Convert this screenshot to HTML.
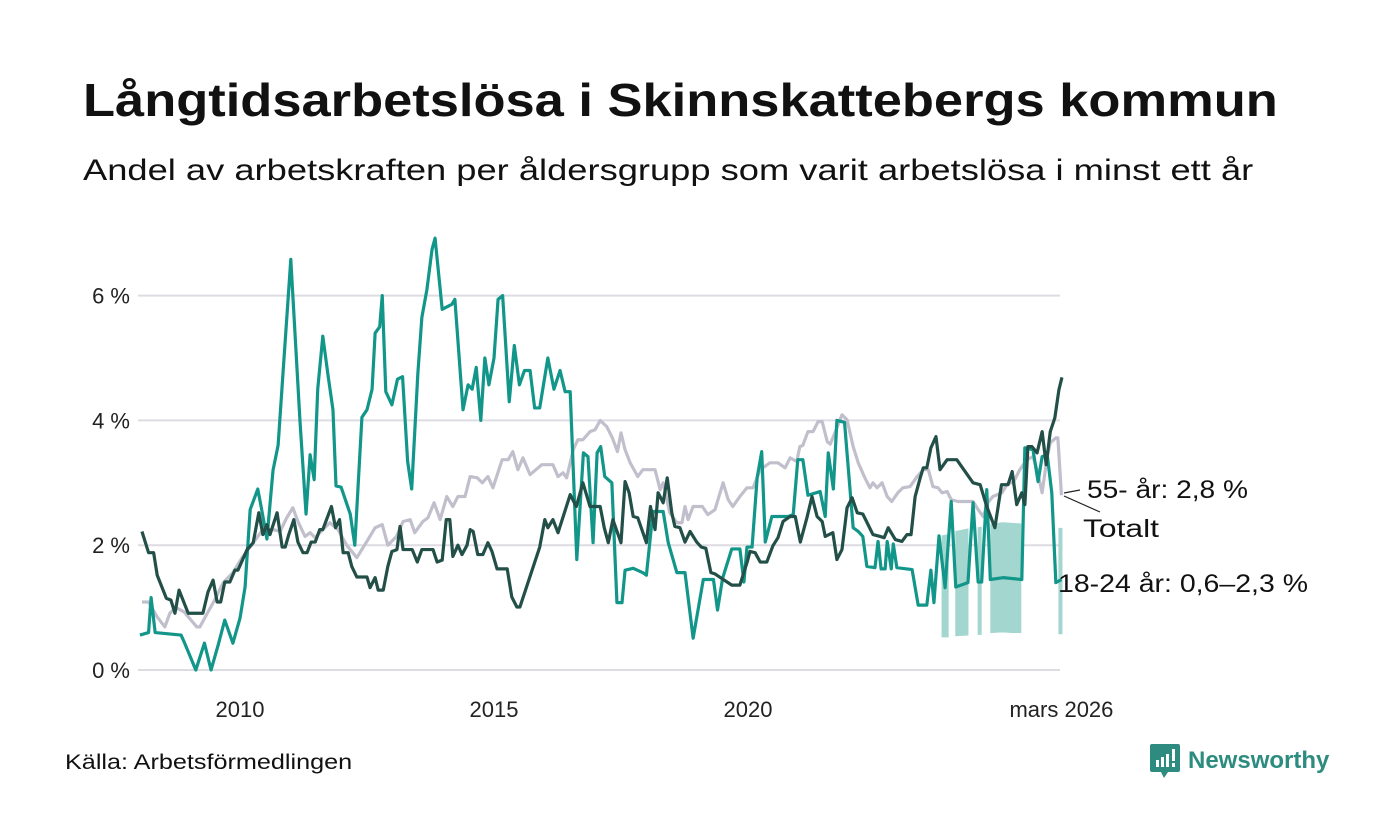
<!DOCTYPE html>
<html><head><meta charset="utf-8">
<style>
html,body{margin:0;padding:0;background:#fff;}
body{width:1400px;height:840px;position:relative;overflow:hidden;font-family:"Liberation Sans",sans-serif;color:#111;}
#title{position:absolute;left:83px;top:73px;font-size:46px;font-weight:bold;margin:0;transform-origin:0 0;transform:scaleX(1.14);white-space:nowrap;}
#subtitle{position:absolute;left:83px;top:154px;font-size:30px;margin:0;transform-origin:0 0;transform:scaleX(1.21);white-space:nowrap;}
#source{position:absolute;left:65px;top:751px;font-size:21px;transform-origin:0 0;transform:scaleX(1.2);white-space:nowrap;}
#logo{position:absolute;left:1150px;top:744px;display:flex;align-items:center;}
#logo span{font-size:24px;font-weight:bold;color:#2d8c7f;margin-left:8px;}
svg{position:absolute;left:0;top:0;}
</style></head><body>
<h1 id="title">Långtidsarbetslösa i Skinnskattebergs kommun</h1>
<p id="subtitle">Andel av arbetskraften per åldersgrupp som varit arbetslösa i minst ett år</p>
<div id="source">Källa: Arbetsförmedlingen</div>
<div id="logo">
<svg style="position:static" width="30" height="34" viewBox="0 0 30 34"><path d="M2 0h26a2 2 0 0 1 2 2v24a2 2 0 0 1-2 2H18l-4 6-3-6H2a2 2 0 0 1-2-2V2a2 2 0 0 1 2-2z" fill="#2d8c7f"/><rect x="6" y="16" width="3" height="7" fill="#fff"/><rect x="11" y="13" width="3" height="10" fill="#fff"/><rect x="16" y="10" width="3" height="13" fill="#fff"/><rect x="22" y="5" width="3" height="12" fill="#fff"/><rect x="22" y="19" width="3" height="4" fill="#fff"/></svg>
<span>Newsworthy</span></div>
<svg id="chart" width="1400" height="840"></svg>
<script>
const yTicks=[0,2,4,6];
const yTickLabels=["0 %","2 %","4 %","6 %"];
const xTicks=[2010,2015,2020,2026.17];
const xTickLabels=["2010","2015","2020","mars 2026"];
const totDates=[2008.07,2008.2,2008.37,2008.52,2008.62,2008.74,2008.9,2009.15,2009.21,2009.37,2009.5,2009.67,2009.86,2010.04,2010.2,2010.45,2010.65,2010.79,2010.92,2011.04,2011.14,2011.28,2011.38,2011.48,2011.63,2011.77,2011.93,2012.1,2012.3,2012.42,2012.52,2012.66,2012.8,2012.91,2013.08,2013.21,2013.35,2013.44,2013.6,2013.7,2013.82,2013.94,2014.07,2014.19,2014.29,2014.43,2014.53,2014.67,2014.77,2014.88,2014.98,2015.16,2015.28,2015.37,2015.47,2015.57,2015.71,2015.94,2016.16,2016.26,2016.36,2016.43,2016.56,2016.65,2016.75,2016.89,2016.99,2017.09,2017.22,2017.33,2017.43,2017.5,2017.58,2017.68,2017.83,2017.93,2018.17,2018.27,2018.33,2018.46,2018.6,2018.7,2018.76,2018.82,2018.92,2019.1,2019.21,2019.35,2019.45,2019.51,2019.61,2019.7,2019.84,2019.98,2020.1,2020.24,2020.43,2020.59,2020.73,2020.83,2020.96,2021.02,2021.08,2021.18,2021.28,2021.38,2021.46,2021.56,2021.62,2021.72,2021.85,2021.95,2022.07,2022.17,2022.3,2022.4,2022.46,2022.54,2022.64,2022.74,2022.83,2022.95,2023.05,2023.19,2023.33,2023.45,2023.55,2023.64,2023.74,2023.82,2023.92,2024.0,2024.13,2024.3,2024.43,2024.53,2024.63,2024.72,2024.82,2025.0,2025.12,2025.22,2025.35,2025.49,2025.61,2025.69,2025.79,2025.89,2025.95,2026.06,2026.1,2026.17];
const totVals=[1.09,1.09,0.85,0.69,0.91,1.0,0.93,0.69,0.69,0.93,1.12,1.4,1.56,1.8,1.97,2.25,2.25,2.22,2.44,2.6,2.38,2.14,2.2,2.12,2.25,2.36,2.25,2.0,1.8,1.96,2.09,2.28,2.33,2.0,2.14,2.38,2.41,2.2,2.38,2.44,2.68,2.41,2.78,2.62,2.78,2.78,3.1,3.08,3.0,3.1,2.92,3.37,3.37,3.5,3.21,3.4,3.13,3.29,3.29,3.1,3.16,3.08,3.53,3.69,3.69,3.82,3.85,4.0,3.9,3.72,3.5,3.8,3.53,3.32,3.1,3.21,3.21,2.89,3.0,2.52,2.36,2.36,2.62,2.41,2.62,2.62,2.49,2.57,2.84,3.0,2.73,2.62,2.78,2.92,2.92,3.21,3.32,3.32,3.24,3.4,3.34,3.58,3.6,3.82,3.82,3.98,3.98,3.66,3.62,3.82,4.09,4.01,3.58,3.32,3.08,2.92,3.0,2.92,3.0,2.78,2.7,2.84,2.92,2.94,3.1,3.21,3.21,2.94,2.92,2.84,2.86,2.73,2.7,2.7,2.7,2.57,2.46,2.68,2.78,2.84,3.0,3.0,3.21,3.37,3.42,3.21,2.84,3.42,3.64,3.72,3.72,2.8];
const oldDates=[2008.07,2008.2,2008.3,2008.37,2008.55,2008.64,2008.72,2008.8,2008.98,2009.27,2009.37,2009.47,2009.55,2009.62,2009.7,2009.8,2009.9,2009.96,2010.14,2010.26,2010.37,2010.45,2010.53,2010.59,2010.73,2010.83,2010.89,2010.96,2011.06,2011.14,2011.24,2011.32,2011.4,2011.48,2011.57,2011.63,2011.8,2011.88,2011.96,2012.03,2012.13,2012.2,2012.3,2012.5,2012.56,2012.66,2012.72,2012.82,2012.91,2012.99,2013.09,2013.15,2013.21,2013.39,2013.49,2013.58,2013.8,2013.88,2013.98,2014.06,2014.13,2014.19,2014.29,2014.37,2014.47,2014.53,2014.59,2014.68,2014.78,2014.88,2014.96,2015.06,2015.26,2015.35,2015.45,2015.51,2015.9,2016.0,2016.06,2016.16,2016.26,2016.5,2016.62,2016.75,2016.89,2017.09,2017.17,2017.25,2017.34,2017.5,2017.58,2017.66,2017.74,2017.83,2018.0,2018.08,2018.17,2018.23,2018.33,2018.41,2018.5,2018.56,2018.66,2018.76,2018.86,2018.99,2019.08,2019.17,2019.27,2019.35,2019.68,2019.84,2019.98,2020.04,2020.14,2020.24,2020.37,2020.49,2020.59,2020.69,2020.83,2020.93,2021.03,2021.16,2021.26,2021.36,2021.46,2021.52,2021.67,2021.75,2021.85,2021.95,2022.05,2022.15,2022.26,2022.46,2022.6,2022.68,2022.76,2022.9,2023.03,2023.13,2023.21,2023.29,2023.39,2023.45,2023.52,2023.6,2023.7,2023.78,2023.92,2024.11,2024.43,2024.57,2024.7,2024.86,2024.99,2025.12,2025.2,2025.29,2025.39,2025.45,2025.51,2025.59,2025.69,2025.79,2025.87,2025.95,2026.04,2026.12,2026.18];
const oldVals=[2.22,1.88,1.88,1.52,1.15,1.12,0.91,1.28,0.91,0.91,1.25,1.44,1.09,1.09,1.41,1.41,1.6,1.6,1.93,2.04,2.52,2.17,2.33,2.17,2.52,1.97,1.97,2.17,2.41,2.05,1.88,1.88,2.05,2.05,2.25,2.25,2.62,2.28,2.41,1.88,1.88,1.66,1.49,1.49,1.32,1.48,1.28,1.28,1.66,1.9,1.93,2.3,1.93,1.93,1.73,1.93,1.93,1.73,1.76,2.41,2.41,1.82,2.0,1.85,2.0,2.25,2.22,1.85,1.85,2.04,1.9,1.62,1.62,1.17,1.01,1.01,1.97,2.41,2.28,2.41,2.2,2.81,2.62,3.0,2.62,2.62,2.28,2.04,2.41,2.04,3.02,2.84,2.46,2.44,2.04,2.62,2.25,2.84,2.68,3.08,2.52,2.3,2.28,2.05,2.22,2.05,1.97,1.95,1.56,1.54,1.36,1.36,1.72,1.9,1.88,1.73,1.73,1.99,2.12,2.38,2.46,2.46,2.05,2.44,2.78,2.46,2.38,2.14,2.2,1.77,1.93,2.6,2.76,2.52,2.5,2.17,2.14,2.12,2.28,2.09,2.06,2.17,2.17,2.78,3.08,3.24,3.24,3.56,3.74,3.21,3.37,3.37,3.0,2.97,2.62,2.28,2.97,2.97,3.18,2.65,2.84,2.65,3.58,3.58,3.48,3.82,3.29,3.82,4.04,4.49,4.69,2.84];
const youthDates=[2008.03,2008.2,2008.25,2008.33,2008.84,2008.9,2009.13,2009.3,2009.43,2009.57,2009.7,2009.86,2010.0,2010.1,2010.2,2010.35,2010.42,2010.53,2010.65,2010.75,2010.85,2011.0,2011.18,2011.3,2011.38,2011.46,2011.53,2011.63,2011.73,2011.83,2011.89,2011.99,2012.17,2012.26,2012.4,2012.5,2012.6,2012.66,2012.75,2012.8,2012.87,2012.99,2013.1,2013.2,2013.3,2013.38,2013.5,2013.58,2013.68,2013.78,2013.84,2013.98,2014.17,2014.23,2014.39,2014.49,2014.57,2014.65,2014.74,2014.82,2014.9,2015.0,2015.08,2015.17,2015.3,2015.4,2015.5,2015.6,2015.71,2015.8,2015.9,2016.06,2016.18,2016.3,2016.4,2016.5,2016.63,2016.76,2016.85,2016.95,2017.03,2017.1,2017.18,2017.32,2017.42,2017.52,2017.58,2017.74,2017.93,2018.0,2018.13,2018.33,2018.43,2018.6,2018.76,2018.92,2019.12,2019.32,2019.4,2019.5,2019.68,2019.84,2019.92,2019.98,2020.08,2020.18,2020.27,2020.34,2020.47,2020.63,2020.79,2020.89,2020.98,2021.08,2021.18,2021.42,2021.52,2021.58,2021.68,2021.75,2021.9,2022.07,2022.17,2022.26,2022.34,2022.5,2022.56,2022.62,2022.7,2022.74,2022.82,2022.86,2022.93,2023.23,2023.35,2023.52,2023.6,2023.66,2023.76,2023.88,2024.0,2024.09,2024.33,2024.43,2024.53,2024.6,2024.7,2024.77,2025.02,2025.39,2025.45,2025.61,2025.71,2025.79,2025.89,2025.98,2026.06,2026.17];
const youthVals=[0.56,0.6,1.16,0.6,0.56,0.45,0.0,0.43,0.0,0.4,0.8,0.43,0.83,1.33,2.57,2.9,2.6,2.1,3.2,3.6,4.8,6.58,4.0,2.5,3.45,3.05,4.5,5.35,4.74,4.17,2.95,2.93,2.5,2.0,4.05,4.17,4.5,5.4,5.5,6.0,4.46,4.25,4.66,4.7,3.34,2.9,4.74,5.65,6.1,6.74,6.92,5.78,5.86,5.94,4.17,4.57,4.5,4.85,4.0,5.0,4.57,5.0,5.94,6.0,4.3,5.2,4.57,4.8,4.8,4.2,4.2,5.0,4.5,4.8,4.46,4.46,1.77,3.48,3.42,2.04,3.48,3.58,3.1,3.0,1.08,1.08,1.6,1.63,1.56,1.52,2.54,2.54,2.04,1.56,1.56,0.51,1.45,1.45,0.96,1.47,1.94,1.94,1.41,1.97,1.97,3.08,3.5,2.05,2.46,2.46,2.46,2.49,3.37,3.37,2.8,2.86,2.46,3.48,2.9,4.0,3.97,2.28,2.22,2.14,1.66,1.64,2.06,1.62,1.62,2.06,1.62,2.02,1.64,1.61,1.04,1.04,1.6,1.08,2.15,1.32,2.7,1.33,1.4,2.68,1.41,1.41,2.89,1.45,1.48,1.45,3.56,3.53,3.02,3.42,3.45,2.84,1.4,1.45];
const bandDates=[2023.82,2023.94,null,2024.09,2024.33,null,2024.53,2024.59,null,2024.78,2025.0,2025.2,2025.37,null,2026.12,2026.18];
const bandLow=[0.53,0.53,null,0.55,0.56,null,0.57,0.57,null,0.6,0.61,0.6,0.6,null,0.58,0.58];
const bandHigh=[2.15,2.17,null,2.22,2.26,null,2.28,2.29,null,2.33,2.36,2.35,2.34,null,2.27,2.27];

const NS="http://www.w3.org/2000/svg";
const svg=document.getElementById('chart');
const X=y=>240+(y-2010)*50.8;
const Y=v=>670-v*62.4;
function mk(t,a){const e=document.createElementNS(NS,t);for(const k in a)e.setAttribute(k,a[k]);svg.appendChild(e);return e;}
yTicks.forEach((v,i)=>{
  const g=mk('line',{x1:138,x2:1060,y1:Y(v),y2:Y(v),stroke:'#dddce2','stroke-width':2});
  
  
  const t=mk('text',{x:130,y:Y(v)+8,'text-anchor':'end','font-size':22,fill:'#222'});
  t.textContent=yTickLabels[i];
  
  
});
xTicks.forEach((v,i)=>{
  const t=mk('text',{x:X(v),y:717,'text-anchor':'middle','font-size':22,fill:'#222'});
  t.textContent=xTickLabels[i];
  
  
});
let seg=[];
function flush(){if(seg.length){const top=seg.map(p=>X(p[0])+','+Y(p[2]));const bot=seg.slice().reverse().map(p=>X(p[0])+','+Y(p[1]));
  const b=mk('polygon',{points:top.concat(bot).join(' '),fill:'#a3d6ce',stroke:'#a3d6ce','stroke-width':1});
  
  
  seg=[];}}
bandDates.forEach((d,i)=>{if(d===null)flush();else seg.push([d,bandLow[i],bandHigh[i]]);});flush();
function line(ds,vs,col,name){
  const p=mk('polyline',{points:ds.map((d,i)=>X(d)+','+Y(vs[i])).join(' '),fill:'none',stroke:col,'stroke-width':3.2,'stroke-linejoin':'round'});
  
  
}
line(totDates,totVals,'#c2bfcc','series-totalt');
line(youthDates,youthVals,'#12968a','series-18-24');
line(oldDates,oldVals,'#224f47','series-55');
const l1=mk('line',{x1:1064,y1:493,x2:1080,y2:490,stroke:'#222','stroke-width':1.2});


const l2=mk('line',{x1:1064,y1:496,x2:1100,y2:512,stroke:'#222','stroke-width':1.2});


[["55- år: 2,8 %",1087,498,'label-55',161],["Totalt",1083,537,'label-totalt',76],["18-24 år: 0,6–2,3 %",1058,592,'label-18-24',250]].forEach(a=>{
  const t=mk('text',{x:a[1],y:a[2],'font-size':25,fill:'#111',textLength:a[4],lengthAdjust:'spacingAndGlyphs'});
  t.textContent=a[0];
  
  
});
</script>
</body></html>
